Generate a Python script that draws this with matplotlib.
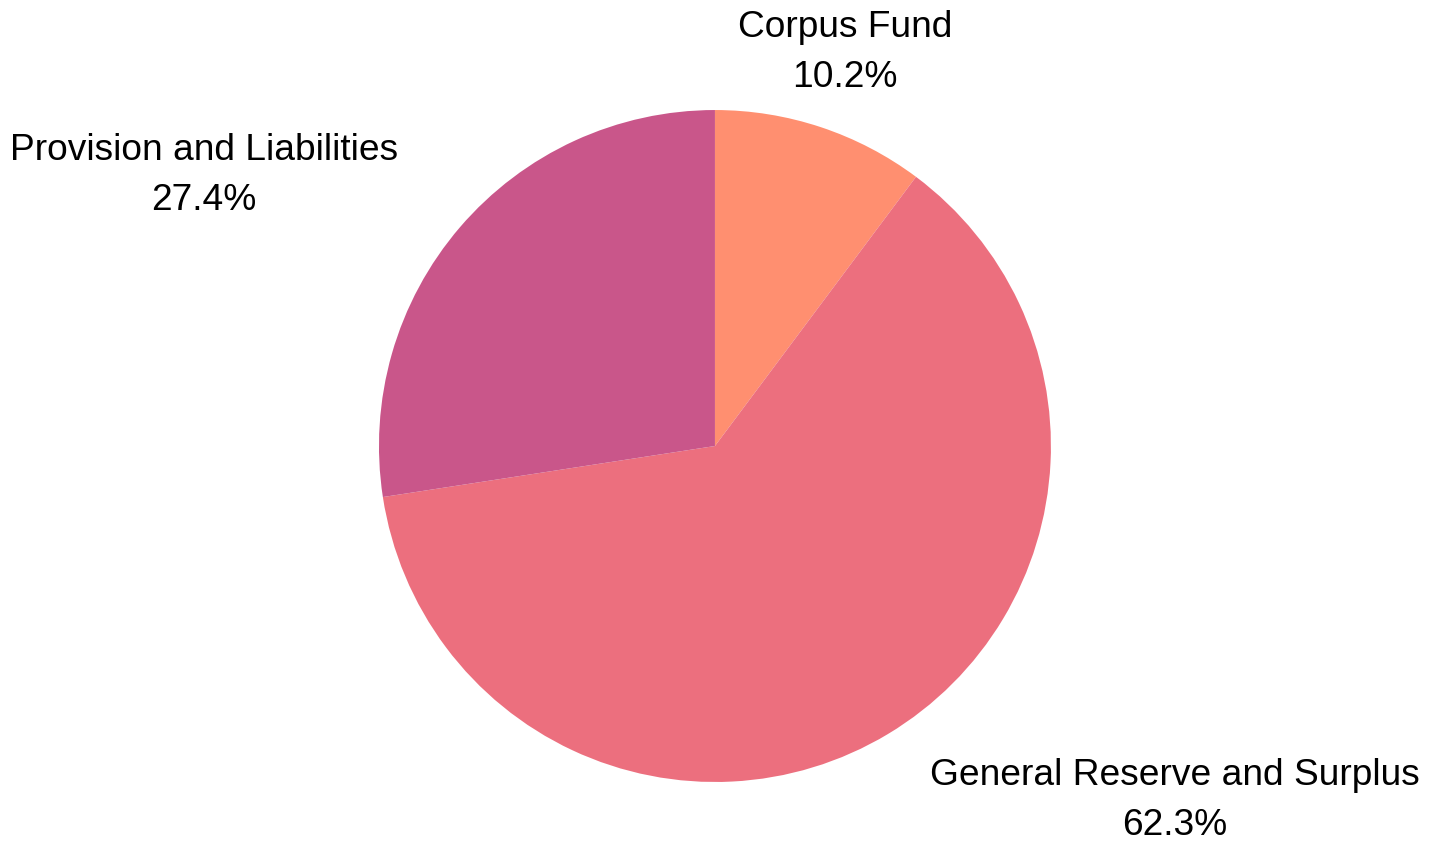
import matplotlib.pyplot as plt

labels = ['Corpus Fund', 'General Reserve and Surplus', 'Provision and Liabilities']
values = [10.2, 62.3, 27.4]
colors = ['#FF8F70', '#EC6F7E', '#C9568A']

# label anchor spots in pie-radius units
label_xy = [(0.387, 1.170), (1.369, -1.054), (-1.521, 0.804)]

plt.rcParams['font.family'] = ['Liberation Sans', 'DejaVu Sans']

fig = plt.figure(figsize=(14.43, 8.48), dpi=100)
ax = fig.add_axes([0, 0, 1, 1])

ax.pie(values, colors=colors, startangle=90, counterclock=False,
       radius=1, center=(0, 0), wedgeprops=dict(linewidth=0))

for lab, v, (x, y) in zip(labels, values, label_xy):
    ax.text(x, y, f'{lab}\n{v:.1f}%', ha='center', va='center',
            fontsize=26.7, linespacing=1.55, color='black')

ax.set_xlim(-2.128, 2.167)
ax.set_ylim(-1.196, 1.327)
ax.set_aspect('equal')
ax.axis('off')

fig.savefig('out.png', dpi=100)
